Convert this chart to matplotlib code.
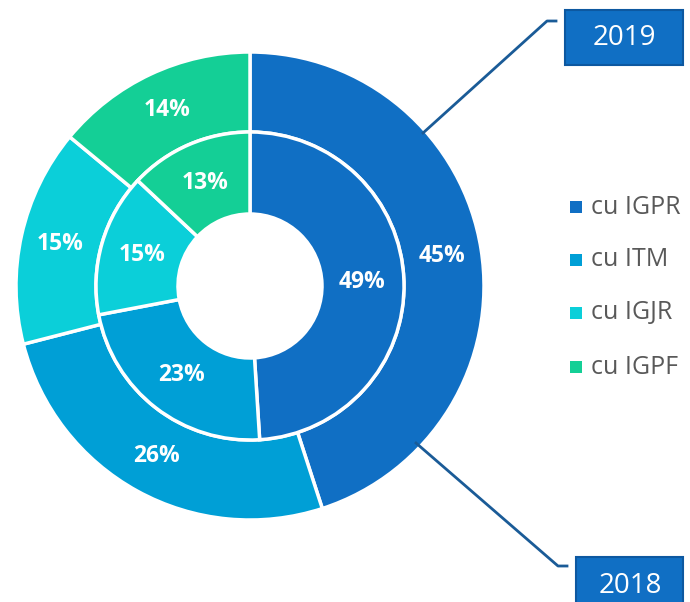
import matplotlib.pyplot as plt
from matplotlib.patches import Rectangle

# share of each category, outer ring = 2019, inner ring = 2018
categories = ['cu IGPR', 'cu ITM', 'cu IGJR', 'cu IGPF']
values_2019 = [45, 26, 15, 14]
values_2018 = [49, 23, 15, 13]
colors = ['#106fc4', '#009fd6', '#0bcfd9', '#14cf96']

plt.rcParams['font.family'] = ['Open Sans', 'DejaVu Sans']

W, H = 690, 602
fig = plt.figure(figsize=(W / 100, H / 100), dpi=100)
ax = fig.add_axes([0, 0, 1, 1])
ax.set_xlim(0, W)
ax.set_ylim(0, H)
ax.set_aspect('equal')
ax.axis('off')

cx, cy = 250, 316
wp = dict(edgecolor='white', linewidth=2.5)

# outer ring (2019)
ax.pie(values_2019, radius=234, center=(cx, cy), startangle=90, counterclock=False,
       colors=colors, autopct='%d%%', pctdistance=0.83,
       wedgeprops=dict(width=80, **wp),
       textprops=dict(color='white', fontsize=16.5, fontweight='bold'))

# inner ring (2018)
ax.pie(values_2018, radius=154, center=(cx, cy), startangle=90, counterclock=False,
       colors=colors, autopct='%d%%', pctdistance=0.73,
       wedgeprops=dict(width=82, **wp),
       textprops=dict(color='white', fontsize=16.5, fontweight='bold'))

ax.set_xlim(0, W)
ax.set_ylim(0, H)

# callout boxes for the two years
line_col = '#1a5b97'
ax.plot([423, 547, 556], [H - 133, H - 21, H - 21], color=line_col, lw=2)
ax.plot([416, 558, 567], [H - 443, H - 566, H - 566], color=line_col, lw=2)

ax.add_patch(Rectangle((565, H - 65), 118, 55, facecolor='#106fc4',
                       edgecolor='#0d58a0', lw=1.5))
ax.text(624, H - 38, '2019', color='white', fontsize=20, ha='center', va='center')

ax.add_patch(Rectangle((576, -20), 107, H - 557 + 20, facecolor='#106fc4',
                       edgecolor='#0d58a0', lw=1.5, clip_on=True))
ax.text(630, H - 586, '2018', color='white', fontsize=20, ha='center', va='center')

# legend
leg_y = [207, 260, 313, 367]
for lab, col, y in zip(categories, colors, leg_y):
    ax.add_patch(Rectangle((570, H - y - 6), 12, 12, facecolor=col, edgecolor='none'))
    ax.text(591, H - y, lab, color='#595959', fontsize=18, ha='left', va='center')

fig.savefig('out.png', dpi=100)
